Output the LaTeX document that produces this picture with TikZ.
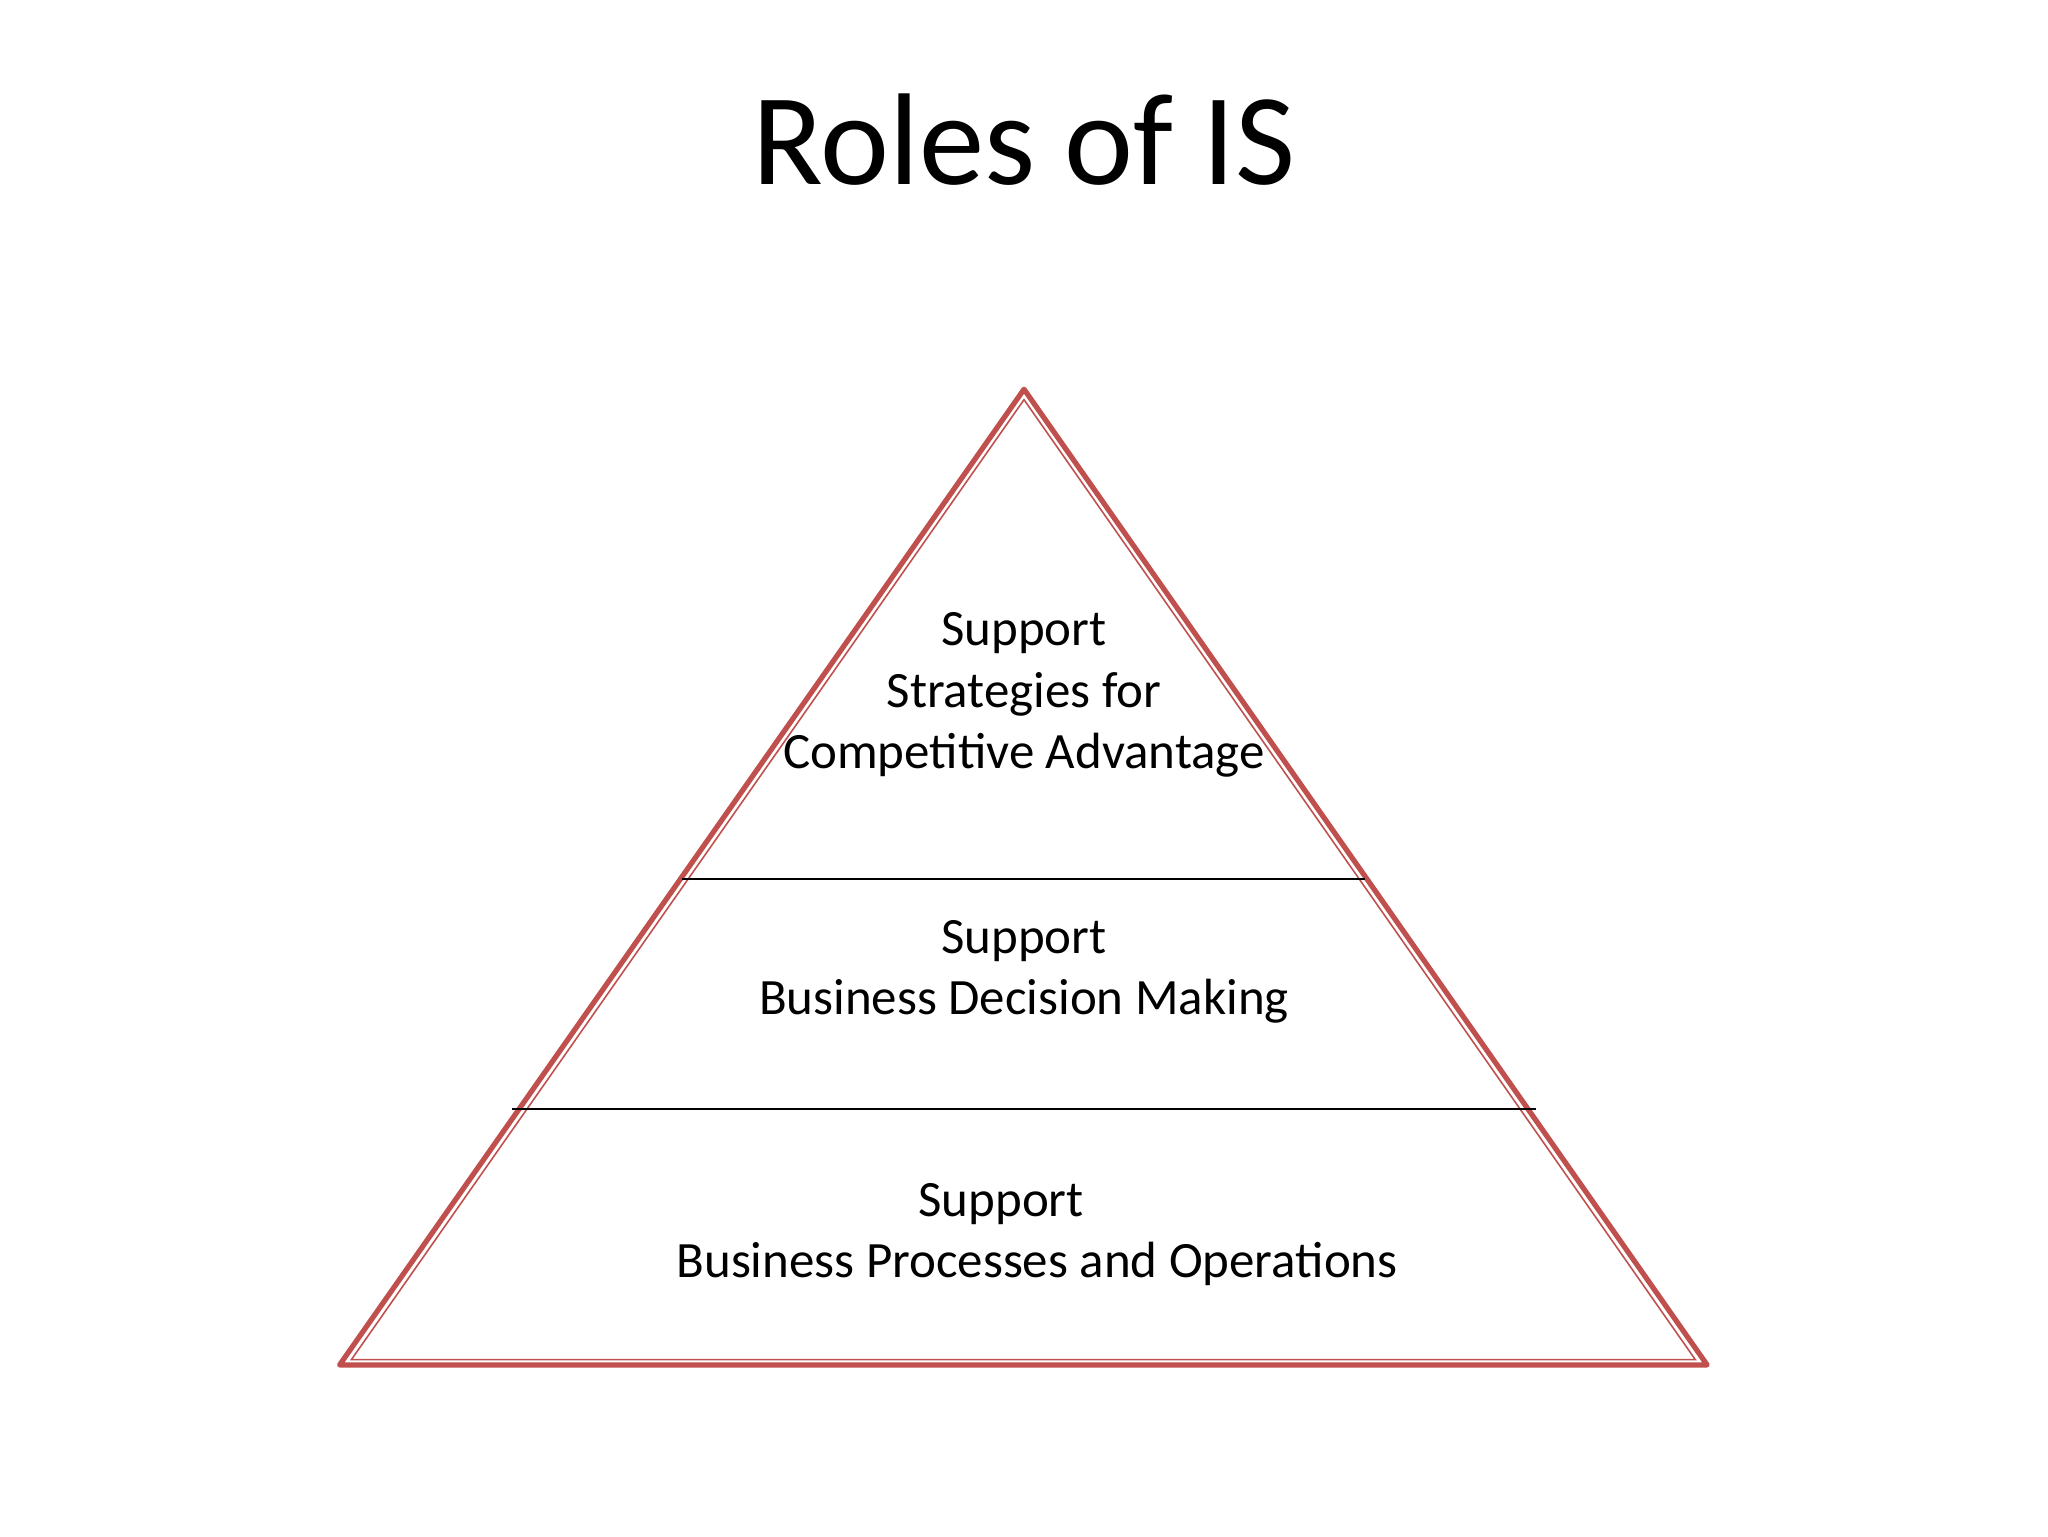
\documentclass[tikz,border=0pt]{standalone}
\usepackage{fontspec}
\setmainfont{Carlito}
\definecolor{pyr}{RGB}{192,80,77}
\begin{document}
\begin{tikzpicture}[x=1pt,y=-1pt,
  lbl/.style={align=center,font=\fontsize{39}{47}\selectfont,inner sep=0pt}]
\useasboundingbox (0,0) rectangle (1568,1176);
\coordinate (A) at (784,298);
\coordinate (B) at (260,1045);
\coordinate (C) at (1307,1045);
\coordinate (Ai) at (784,306);
\coordinate (Bi) at (269,1041);
\coordinate (Ci) at (1298,1041);
\draw[pyr,line width=4pt,line join=round] (A) -- (B) -- (C) -- cycle;
\draw[pyr,line width=1.2pt,line join=miter] (Ai) -- (Bi) -- (Ci) -- cycle;
\coordinate (l1a) at (522,673); \coordinate (l1b) at (1045,673);
\coordinate (l2a) at (392,849); \coordinate (l2b) at (1176,849);
\draw[line width=1.2pt] (l1a) -- (l1b);
\draw[line width=1.2pt] (l2a) -- (l2b);
\node[font=\fontsize{100}{110}\selectfont] (title) at (784,107) {Roles of IS};
\node[lbl] (t1) at (784,532) {Support\\Strategies for\\Competitive Advantage};
\node[lbl] (t2) at (784,744) {Support\\Business Decision Making};
\node[lbl] (t3) at (794,945) {\hspace*{-55pt}Support\\Business Processes and Operations};
\end{tikzpicture}
\end{document}
